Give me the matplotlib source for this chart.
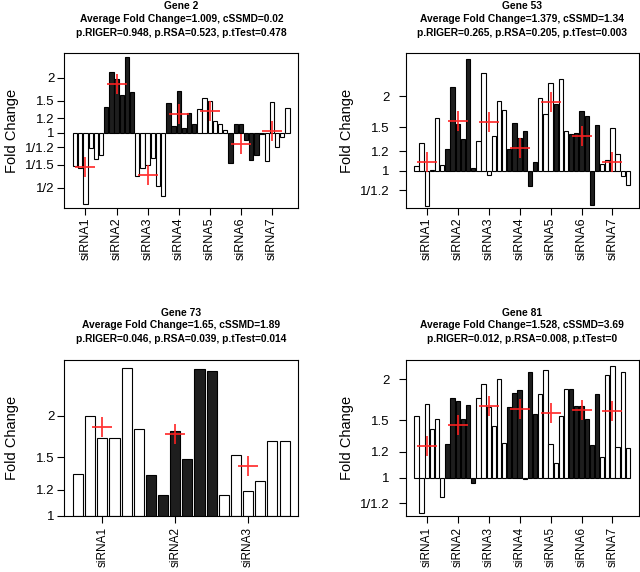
import numpy as np
import matplotlib
matplotlib.use('Agg')
import matplotlib.pyplot as plt
from matplotlib.ticker import NullLocator

# fold change of every well, 6 per siRNA
gene2_fc = [0.66, 0.64, 0.41, 0.82, 0.72, 0.76,
            1.38, 2.14, 1.97, 1.60, 2.59, 1.68,
            0.58, 0.64, 0.67, 0.73, 0.51, 0.45,
            1.45, 1.09, 1.70, 1.06, 1.28, 1.12,
            1.34, 1.54, 1.50, 1.16, 1.11, 1.03,
            0.68, 1.12, 1.11, 0.91, 0.71, 0.76,
            0.98, 0.70, 1.48, 0.84, 0.95, 1.37]
gene53_fc = [1.05, 1.30, 0.72, 1.01, 1.63, 1.06,
             1.23, 2.17, 1.55, 1.35, 2.83, 1.03,
             1.32, 2.49, 0.96, 1.38, 1.92, 1.76,
             1.22, 1.56, 1.36, 1.45, 0.87, 1.09,
             1.96, 1.69, 2.26, 1.86, 2.35, 1.45,
             1.41, 1.42, 1.75, 1.67, 0.73, 1.53,
             1.07, 1.11, 1.49, 1.17, 0.95, 0.88]
gene73_fc = [1.34, 2.00, 1.72, 1.72, 2.79, 1.83,
             1.33, 1.16, 1.80, 1.48, 2.76, 2.72,
             1.16, 1.52, 1.19, 1.27, 1.68, 1.68]
gene81_fc = [1.54, 0.78, 1.68, 1.41, 1.51, 0.875,
             1.27, 1.75, 1.71, 1.51, 1.67, 0.96,
             1.75, 1.93, 1.65, 1.44, 2.00, 1.28,
             1.64, 1.81, 1.85, 0.99, 2.10, 1.56,
             1.80, 2.13, 1.27, 1.11, 1.54, 1.87,
             1.87, 1.66, 1.66, 1.51, 1.26, 1.80,
             1.16, 2.06, 2.20, 1.24, 2.10, 1.23]

# red crosses (siRNA average)
gene2_mark = [0.65, 1.84, 0.59, 1.26, 1.32, 0.865, 1.02]
gene53_mark = [1.09, 1.59, 1.57, 1.24, 1.90, 1.38, 1.09]
gene73_mark = [1.85, 1.76, 1.41]
gene81_mark = [1.25, 1.45, 1.655, 1.62, 1.58, 1.61, 1.60]

genes = ['Gene 2', 'Gene 53', 'Gene 73', 'Gene 81']
avg_fc = ['1.009', '1.379', '1.65', '1.528']
cssmd = ['0.02', '1.34', '1.89', '3.69']
p_riger = ['0.948', '0.265', '0.046', '0.012']
p_rsa = ['0.523', '0.205', '0.039', '0.008']
p_ttest = ['0.478', '0.003', '0.014', '0']

# wells drawn black although their siRNA group is white
black_extra = {'Gene 53': [27]}

tick_vals = [0.5, 1 / 1.5, 1 / 1.2, 1, 1.2, 1.5, 2]
tick_labs = ['1/2', '1/1.5', '1/1.2', '1', '1.2', '1.5', '2']

W, H = 640, 572
fig = plt.figure(figsize=(W / 100, H / 100), dpi=100)

title_font = ['Liberation Sans Narrow', 'Liberation Sans', 'DejaVu Sans']
body_font = ['Liberation Sans', 'DejaVu Sans']

# pixel boxes: left, top, right, bottom
boxes = [(64.3, 53, 298.3, 208.3), (405.7, 53, 638.7, 208.3),
         (64.3, 360, 298.3, 516), (405.7, 360, 638.7, 516)]
ylims = [(0.386, 2.73), (0.706, 2.99), (1.0, 2.94), (0.763, 2.29)]
ypads = [2, 6.5, 2, 6.5]
xpads = [1.5, 1.5, 3, 3]
xsizes = [9, 9, 8.5, 8.5]
ylab_x = [12, 347.5, 12, 347.5]

all_fc = [gene2_fc, gene53_fc, gene73_fc, gene81_fc]
all_mark = [gene2_mark, gene53_mark, gene73_mark, gene81_mark]

for k in range(4):
    left, top, right, bottom = boxes[k]
    ax = fig.add_axes([left / W, 1 - bottom / H, (right - left) / W, (bottom - top) / H])
    fc = np.array(all_fc[k])
    n = len(fc)
    x = 0.7 + 1.2 * np.arange(n)
    cols = []
    for i in range(n):
        if (i // 6) % 2 == 1 or i in black_extra.get(genes[k], []):
            cols.append('#1e1e1e')
        else:
            cols.append('white')
    ax.bar(x, fc - 1, bottom=1, width=1, color=cols, edgecolor='black', linewidth=0.8)
    ax.plot(x[2::6], all_mark[k], '+', ms=14, mew=1.3, color='#ff2020', alpha=0.9, zorder=5)

    ax.set_yscale('log')
    ax.set_ylim(*ylims[k])
    lo, hi = 0.2, 1.2 * n
    pad = 0.04 * (hi - lo)
    ax.set_xlim(lo - pad, hi + pad)

    lo_y, hi_y = ylims[k]
    tv = [t for t in tick_vals if lo_y - 1e-6 <= t <= hi_y]
    tl = [tick_labs[tick_vals.index(t)] for t in tv]
    ax.yaxis.set_minor_locator(NullLocator())
    ax.set_yticks(tv)
    ax.set_yticklabels(tl, fontsize=9.5, family=body_font)
    ax.set_xticks(x[2::6])
    ax.set_xticklabels(['siRNA%d' % (g + 1) for g in range(n // 6)],
                       rotation=90, fontsize=xsizes[k], family=body_font)
    ax.tick_params(axis='y', length=5, width=0.8, pad=ypads[k])
    ax.tick_params(axis='x', length=5, width=0.8, pad=xpads[k])
    for s in ax.spines.values():
        s.set_linewidth(0.8)

    cx = (left + right) / 2
    lines = [genes[k],
             'Average Fold Change=%s, cSSMD=%s' % (avg_fc[k], cssmd[k]),
             'p.RIGER=%s, p.RSA=%s, p.tTest=%s' % (p_riger[k], p_rsa[k], p_ttest[k])]
    offs = [47, 34.5, 20.5]
    for line, off in zip(lines, offs):
        fig.text(cx / W, 1 - (top - off) / H, line, ha='center', va='center',
                 fontsize=7.4, fontweight='bold', family=title_font)
    fig.text(ylab_x[k] / W, 1 - (top + bottom) / 2 / H, 'Fold Change', rotation=90,
             ha='center', va='center', fontsize=10.5, family=body_font)

fig.savefig('out.png', dpi=100)
